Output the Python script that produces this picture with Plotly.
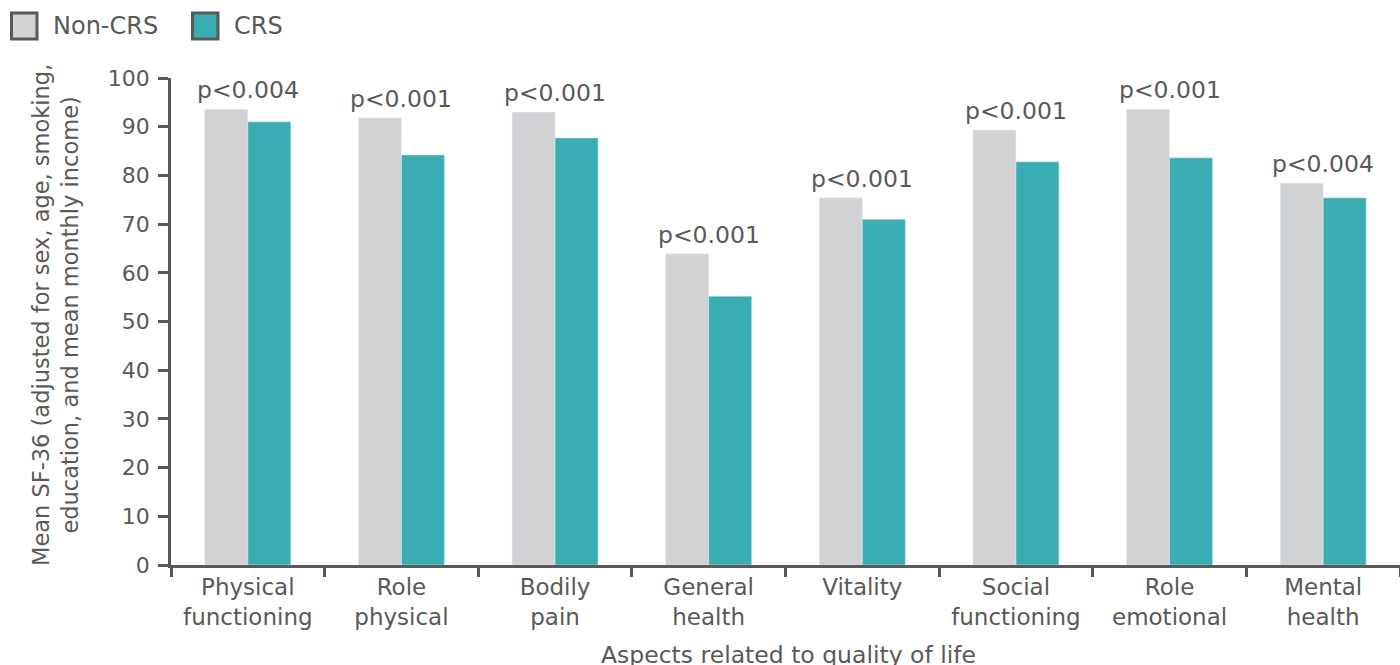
import plotly.graph_objects as go

categories = ["Physical<br>functioning", "Role<br>physical", "Bodily<br>pain", "General<br>health",
              "Vitality", "Social<br>functioning", "Role<br>emotional", "Mental<br>health"]
non_crs = [93.6, 91.8, 93.0, 63.9, 75.4, 89.3, 93.6, 78.4]
crs = [91.0, 84.2, 87.7, 55.2, 71.0, 82.8, 83.6, 75.4]
p_values = ["p<0.004", "p<0.001", "p<0.001", "p<0.001", "p<0.001", "p<0.001", "p<0.001", "p<0.004"]
y_ticks = [0, 10, 20, 30, 40, 50, 60, 70, 80, 90, 100]

GREY = "#D1D2D4"
TEAL = "#3AADB3"
TEXT = "#595959"
FONT = "DejaVu Sans"

W, H = 1400, 665
ML, MR, MT, MB = 171, 0, 78, 100
PW = W - ML - MR
PH = H - MT - MB

fig = go.Figure()
fig.add_trace(go.Bar(x=categories, y=non_crs, name="Non-CRS", marker_color=GREY, showlegend=False))
fig.add_trace(go.Bar(x=categories, y=crs, name="CRS", marker_color=TEAL, showlegend=False))

annotations = []
for c, v, p in zip(categories, non_crs, p_values):
    annotations.append(dict(x=c, y=max(v, 0), xref="x", yref="y", text=p, showarrow=False,
                            yanchor="bottom", yshift=3, font=dict(size=23.5, color=TEXT, family=FONT)))

def px_x(px):
    return (px - ML) / PW

def px_y(py):
    return (H - MB - py) / PH

# y axis title
annotations.append(dict(x=px_x(55), y=px_y(315), xref="paper", yref="paper",
                        text="Mean SF-36 (adjusted for sex, age, smoking,<br>education, and mean monthly income)",
                        textangle=-90, showarrow=False, xanchor="center", yanchor="middle",
                        font=dict(size=22.5, color=TEXT, family=FONT)))
# x axis title
annotations.append(dict(x=px_x(788), y=px_y(655), xref="paper", yref="paper",
                        text="Aspects related to quality of life", showarrow=False,
                        xanchor="center", yanchor="middle",
                        font=dict(size=23.5, color=TEXT, family=FONT)))

# legend
shapes = []
legend_items = [("Non-CRS", GREY, 10), ("CRS", TEAL, 191)]
for name, col, x0 in legend_items:
    shapes.append(dict(type="rect", xref="paper", yref="paper",
                       x0=px_x(x0 + 1.5), x1=px_x(x0 + 27), y0=px_y(39), y1=px_y(13),
                       fillcolor=col, line=dict(color=TEXT, width=3)))
    annotations.append(dict(x=px_x(x0 + 41), y=px_y(26), xref="paper", yref="paper", text=name,
                            showarrow=False, xanchor="left", yanchor="middle",
                            font=dict(size=24, color=TEXT, family=FONT)))

fig.update_layout(
    width=W, height=H,
    margin=dict(l=ML, r=MR, t=MT, b=MB),
    plot_bgcolor="white", paper_bgcolor="white",
    barmode="group", bargap=0.44, bargroupgap=0,
    font=dict(family=FONT, color=TEXT, size=22),
    annotations=annotations, shapes=shapes,
    showlegend=False,
)
fig.update_xaxes(showline=True, linecolor=TEXT, linewidth=2.5, ticks="outside", tickson="boundaries",
                 ticklen=9, tickwidth=2.5, tickcolor=TEXT, showgrid=False,
                 tickfont=dict(size=23, color=TEXT, family=FONT))
fig.update_yaxes(range=[0, 100], tickvals=y_ticks, showline=True, linecolor=TEXT, linewidth=2.5,
                 ticks="outside", ticklen=10, tickwidth=2.5, tickcolor=TEXT, showgrid=False, zeroline=False,
                 tickfont=dict(size=22, color=TEXT, family=FONT), ticklabelstandoff=4)

fig.write_html("out.html")
